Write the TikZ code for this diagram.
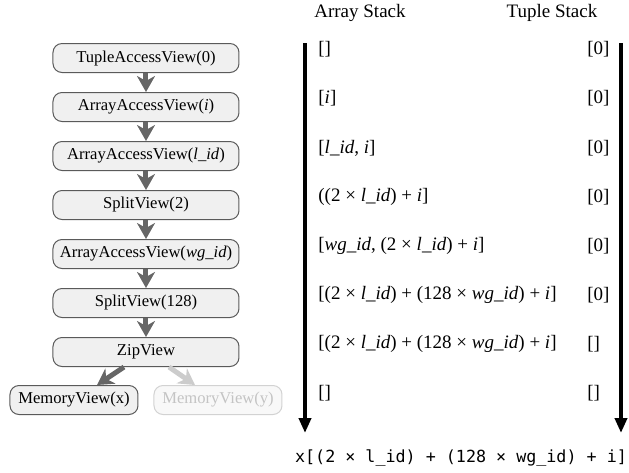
\documentclass[tikz,border=0pt]{standalone}
\usepackage{fontspec}
\setmainfont{Liberation Serif}
\setmonofont{DejaVu Sans Mono}
\usetikzlibrary{arrows.meta}
\definecolor{boxfill}{HTML}{F0F0F0}
\definecolor{boxline}{HTML}{5A5A5A}
\definecolor{arrgray}{HTML}{666666}
\definecolor{lightline}{HTML}{D2D2D2}
\definecolor{lighttext}{HTML}{C4C4C4}
\definecolor{lightfill}{HTML}{F8F8F8}
\definecolor{lightarr}{HTML}{CCCCCC}
\tikzset{
  viewbox/.style={draw=boxline, fill=boxfill, rounded corners=4.5pt, line width=0.5pt,
    minimum width=93pt, minimum height=14.5pt, inner sep=0pt,
    font=\fontsize{8.3}{9}\selectfont},
  membox/.style={viewbox, minimum width=64pt},
  ghostbox/.style={membox, draw=lightline, fill=lightfill, text=lighttext},
  flow/.style={draw=arrgray, line width=2.5pt, -{Stealth[width=9pt,length=8pt,inset=2.5pt]}},
  ghostflow/.style={flow, draw=lightarr},
  stackarr/.style={draw=black, line width=2pt, -{Triangle[width=6pt,length=7.5pt]}},
  stacktxt/.style={anchor=west, inner sep=0pt, font=\fontsize{9.5}{10}\selectfont},
  header/.style={inner sep=0pt, font=\fontsize{9.5}{11}\selectfont},
}
\begin{document}
\begin{tikzpicture}[x=0.5pt,y=-0.5pt]
\useasboundingbox (0,0) rectangle (629,473);
% left chain
\node[viewbox] (tav) at (146,58) {TupleAccessView(0)};
\node[viewbox] (aai) at (146,107) {ArrayAccessView(\textit{i})};
\node[viewbox] (aal) at (146,156) {ArrayAccessView(\textit{l\_id})};
\node[viewbox] (sp2) at (146,205) {SplitView(2)};
\node[viewbox] (aaw) at (146,254) {ArrayAccessView(\textit{wg\_id})};
\node[viewbox] (sp128) at (146,303) {SplitView(128)};
\node[viewbox] (zip) at (146,352) {ZipView};
\node[membox] (memx) at (74,400) {MemoryView(x)};
\node[ghostbox] (memy) at (218,400) {MemoryView(y)};
\draw[flow] (tav) -- (aai);
\draw[flow] (aai) -- (aal);
\draw[flow] (aal) -- (sp2);
\draw[flow] (sp2) -- (aaw);
\draw[flow] (aaw) -- (sp128);
\draw[flow] (sp128) -- (zip);
\draw[flow] (zip.south -| 124,0) -- (memx.north -| 97,0);
\draw[ghostflow] (zip.south -| 169,0) -- (memy.north -| 195,0);
% headers
\node[header] (ah) at (360,13) {Array Stack};
\node[header] (th) at (552,13) {Tuple Stack};
% stack arrows
\coordinate (la0) at (305,43);
\coordinate (la1) at (305,433);
\coordinate (ra0) at (621,43);
\coordinate (ra1) at (621,433);
\draw[stackarr] (la0) -- (la1);
\draw[stackarr] (ra0) -- (ra1);
% rows
\node[stacktxt] (a1) at (318,49) {[]};
\node[stacktxt] (a2) at (318,98) {[\textit{i}]};
\node[stacktxt] (a3) at (318,148) {[\textit{l\_id}, \textit{i}]};
\node[stacktxt] (a4) at (318,197) {((2 × \textit{l\_id}) + \textit{i}]};
\node[stacktxt] (a5) at (318,246) {[\textit{wg\_id}, (2 × \textit{l\_id}) + \textit{i}]};
\node[stacktxt] (a6) at (318,295) {[(2 × \textit{l\_id}) + (128 × \textit{wg\_id}) + \textit{i}]};
\node[stacktxt] (a7) at (318,344) {[(2 × \textit{l\_id}) + (128 × \textit{wg\_id}) + \textit{i}]};
\node[stacktxt] (a8) at (318,393) {[]};
\node[stacktxt] (t1) at (587,49) {[0]};
\node[stacktxt] (t2) at (587,98) {[0]};
\node[stacktxt] (t3) at (587,148) {[0]};
\node[stacktxt] (t4) at (587,197) {[0]};
\node[stacktxt] (t5) at (587,246) {[0]};
\node[stacktxt] (t6) at (587,295) {[0]};
\node[stacktxt] (t7) at (587,344) {[]};
\node[stacktxt] (t8) at (587,393) {[]};
% result
\node[inner sep=0pt, font=\ttfamily\fontsize{8.35}{10}\selectfont] (res) at (461,458) {x[(2 × l\_id) + (128 × wg\_id) + i]};
\end{tikzpicture}
\end{document}
